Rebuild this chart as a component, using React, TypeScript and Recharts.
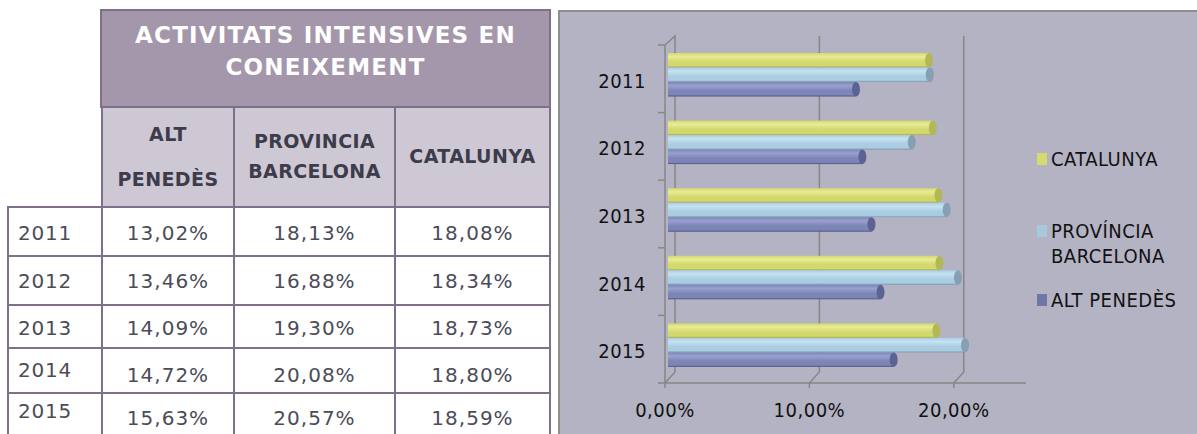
import React from "react"
import { BarChart, Bar, XAxis, YAxis, CartesianGrid } from "recharts"

const years = ["2011", "2012", "2013", "2014", "2015"]
const altPenedes = [13.02, 13.46, 14.09, 14.72, 15.63]
const provinciaBarcelona = [18.13, 16.88, 19.3, 20.08, 20.57]
const catalunya = [18.08, 18.34, 18.73, 18.8, 18.59]
const xTicks = [0, 10, 20]
const tableTitle = ["ACTIVITATS INTENSIVES EN", "CONEIXEMENT"]
const tableHeads = [["ALT", "PENEDÈS"], ["PROVINCIA", "BARCELONA"], ["CATALUNYA"]]
const legendNames = ["CATALUNYA", "PROVÍNCIA\nBARCELONA", "ALT PENEDÈS"]

const data = years.map((year, i) => ({
  year,
  cat: catalunya[i],
  prov: provinciaBarcelona[i],
  alt: altPenedes[i],
}))

const fmt = (v: number) => v.toFixed(2).replace(".", ",") + "%"

const series = [
  { key: "cat", name: legendNames[0], light: "#e8ec94", base: "#d3d86e", dark: "#a2a64a", cap: "#b3b756", swatch: "#d5db6e" },
  { key: "prov", name: legendNames[1], light: "#c6e2f2", base: "#aacde2", dark: "#7896aa", cap: "#879fb2", swatch: "#a8c8dc" },
  { key: "alt", name: legendNames[2], light: "#98a1d0", base: "#7c85b6", dark: "#4b5282", cap: "#5c6392", swatch: "#6e77a8" },
]

const CHART_W = 637
const CHART_H = 423
const MARGIN = { top: 34, right: 171, bottom: 21, left: 0 }
const Y_W = 105
const X_H = 30
const PLOT_H = CHART_H - MARGIN.top - MARGIN.bottom - X_H
const AXIS_GRAY = "#878787"
const CHART_FONT = "'DejaVu Sans Condensed', 'Liberation Sans Narrow', 'DejaVu Sans', sans-serif"
const DEPTH_X = 10
const DEPTH_Y = 9

const CylinderBar = (props: any) => {
  const { x, y, width, height, s } = props
  if (!width || width <= 0) return null
  const bx = x + 3
  const by = y - 4
  const r = 4
  return (
    <g>
      <rect x={bx} y={by} width={width} height={height} fill={`url(#g-${s.key})`} />
      <ellipse cx={bx + width} cy={by + height / 2} rx={r} ry={height / 2} fill={s.cap} />
    </g>
  )
}

const YearTick = (props: any) => {
  const { x, y, payload, index } = props
  const half = PLOT_H / years.length / 2
  const ax = x + 19
  return (
    <g>
      <text x={x} y={y} dy={9} textAnchor="end" fill="#111" fontSize={20} letterSpacing={0.5} fontFamily={CHART_FONT}>
        {payload.value}
      </text>
      <line x1={ax - 7} x2={ax} y1={payload.coordinate - half} y2={payload.coordinate - half} stroke={AXIS_GRAY} strokeWidth={1.5} />
      {index === years.length - 1 && (
        <line x1={ax - 7} x2={ax} y1={payload.coordinate + half} y2={payload.coordinate + half} stroke={AXIS_GRAY} strokeWidth={1.5} />
      )}
    </g>
  )
}

const WallLine = (props: any) => {
  const { x1, y1, y2, index, x, width } = props
  // no wall line at the far end of the domain
  if (typeof x === "number" && typeof width === "number" && Math.abs(x1 - (x + width)) < 1) return <g key={`w-${index}`} />
  const pts =
    index === 0
      ? `${x1},${y1} ${x1 + DEPTH_X},${y1 - DEPTH_Y} ${x1 + DEPTH_X},${y2 - DEPTH_Y - 2} ${x1},${y2}`
      : `${x1 + DEPTH_X},${y1 - DEPTH_Y} ${x1 + DEPTH_X},${y2 - DEPTH_Y - 2} ${x1},${y2}`
  return <polyline key={`w-${index}`} points={pts} fill="none" stroke={AXIS_GRAY} strokeWidth={1.5} />
}

const LegendBox = () => {
  const tops = [6, 78, 147]
  return (
    <div style={{ position: "absolute", left: 1037, top: 141, width: 160, height: 200, fontFamily: CHART_FONT, fontSize: 20, letterSpacing: 0.5, lineHeight: "25px", color: "#111" }}>
      {series.map((s, i) => (
        <div key={s.key} style={{ position: "absolute", left: 0, top: tops[i] }}>
          <div style={{ position: "absolute", left: 0, top: 6, width: 10, height: 12, background: s.swatch }} />
          <div style={{ position: "absolute", left: 14, top: 0, whiteSpace: "pre" }}>{s.name}</div>
        </div>
      ))}
    </div>
  )
}

const BORDER = "2px solid #7e708b"
const TABLE_FONT = "'DejaVu Sans', Verdana, sans-serif"
const colEdges = [8, 102, 234, 395, 550]
const rowEdges = [207, 256, 305, 348, 393, 445]
const yearTops = [221, 269, 316, 358, 399]
const valueTops = [221, 269, 316, 363, 406]
const headTops = [[123, 168], [130, 160], [145]]

const cell = (l: number, t: number, r: number, b: number, extra: React.CSSProperties = {}): React.CSSProperties => ({
  position: "absolute",
  boxSizing: "border-box",
  left: l - 1,
  top: t - 1,
  width: r - l + 2,
  height: b - t + 2,
  border: BORDER,
  ...extra,
})

const DataTable = () => {
  const cols = [altPenedes, provinciaBarcelona, catalunya]
  return (
    <div style={{ fontFamily: TABLE_FONT }}>
      <div style={cell(101, 10, 550, 107, { background: "#a597ab" })}>
        {tableTitle.map((t, i) => (
          <div key={t} style={{ position: "absolute", left: 0, right: 0, top: 10 + i * 32, textAlign: "center", color: "#fff", fontWeight: "bold", fontSize: 23, letterSpacing: 1.2, lineHeight: "28px" }}>
            {t}
          </div>
        ))}
      </div>
      {tableHeads.map((lines, c) => (
        <div key={c} style={cell(colEdges[c + 1], 107, colEdges[c + 2], 207, { background: "#cdc8d4" })}>
          {lines.map((t, k) => (
            <div key={t} style={{ position: "absolute", left: 0, right: 0, top: headTops[c][k] - 108, textAlign: "center", color: "#3c3c4a", fontWeight: "bold", fontSize: 19, letterSpacing: 0.4, lineHeight: "22px" }}>
              {t}
            </div>
          ))}
        </div>
      ))}
      {years.map((year, r) => (
        <React.Fragment key={year}>
          <div style={cell(colEdges[0], rowEdges[r], colEdges[1], rowEdges[r + 1], { background: "#fff" })}>
            <div style={{ position: "absolute", left: 9, top: yearTops[r] - rowEdges[r] - 1, fontSize: 20, letterSpacing: 0.8, lineHeight: "24px", color: "#4c4c58" }}>{year}</div>
          </div>
          {cols.map((vals, c) => (
            <div key={c} style={cell(colEdges[c + 1], rowEdges[r], colEdges[c + 2], rowEdges[r + 1], { background: "#fff" })}>
              <div style={{ position: "absolute", left: 0, right: 0, top: valueTops[r] - rowEdges[r] - 1, textAlign: "center", fontSize: 20, letterSpacing: 1, lineHeight: "24px", color: "#4c4c58" }}>
                {fmt(vals[r])}
              </div>
            </div>
          ))}
        </React.Fragment>
      ))}
    </div>
  )
}

export default function App() {
  return (
    <div style={{ position: "absolute", left: 0, top: 0, width: 1197, height: 434, overflow: "hidden", background: "#fff" }}>
      <DataTable />
      <div style={{ position: "absolute", left: 558, top: 10, width: 650, height: 440, boxSizing: "border-box", borderTop: "2px solid #8e8e8e", borderLeft: "2px solid #8e8e8e", background: "#b4b3c3" }} />
      <div style={{ position: "absolute", left: 560, top: 11 }}>
        <BarChart width={CHART_W} height={CHART_H} data={data} layout="vertical" margin={MARGIN} barSize={14.5} barGap={0}>
          <defs>
            {series.map((s) => (
              <linearGradient key={s.key} id={`g-${s.key}`} x1="0" y1="0" x2="0" y2="1">
                <stop offset="0" stopColor={s.base} />
                <stop offset="0.25" stopColor={s.light} />
                <stop offset="0.6" stopColor={s.base} />
                <stop offset="0.88" stopColor={s.base} />
                <stop offset="1" stopColor={s.dark} />
              </linearGradient>
            ))}
          </defs>
          <CartesianGrid horizontal={false} vertical={WallLine} />
          <XAxis
            type="number"
            domain={[0, 25]}
            ticks={xTicks}
            tickFormatter={fmt}
            height={X_H}
            tickSize={5}
            tickMargin={15}
            stroke={AXIS_GRAY}
            strokeWidth={1.5}
            tick={{ fill: "#111", fontSize: 20, letterSpacing: 0.5, fontFamily: CHART_FONT }}
          />
          <YAxis
            type="category"
            dataKey="year"
            width={Y_W}
            tickSize={0}
            tickMargin={19}
            stroke={AXIS_GRAY}
            strokeWidth={1.5}
            tick={<YearTick />}
          />
          {series.map((s) => (
            <Bar key={s.key} dataKey={s.key} name={s.name} isAnimationActive={false} shape={(p: any) => <CylinderBar {...p} s={s} />} />
          ))}
        </BarChart>
      </div>
      <LegendBox />
    </div>
  )
}
